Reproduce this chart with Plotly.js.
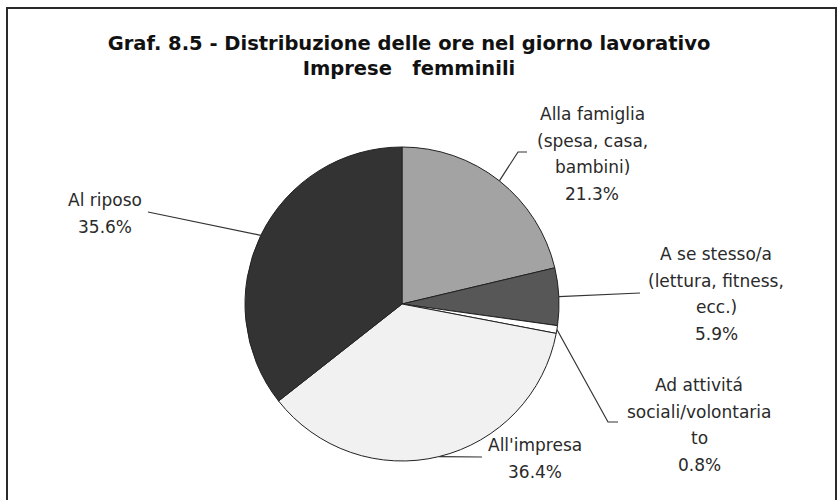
<!DOCTYPE html>
<html>
<head>
<meta charset="utf-8">
<script src="https://cdn.plot.ly/plotly-3.0.1.min.js"></script>
<style>
  html, body { margin: 0; padding: 0; background: #ffffff; }
  #chart { width: 838px; height: 500px; }
</style>
</head>
<body>
<div id="chart"></div>
<script>
// ---- data ----
const categories = [
  "Alla famiglia (spesa, casa, bambini)",
  "A se stesso/a (lettura, fitness, ecc.)",
  "Ad attivitá sociali/volontariato",
  "All'impresa",
  "Al riposo"
];
const labelLines = [
  ["Alla famiglia", "(spesa, casa,", "bambini)"],
  ["A se stesso/a", "(lettura, fitness,", "ecc.)"],
  ["Ad attivitá", "sociali/volontaria", "to"],
  ["All'impresa"],
  ["Al riposo"]
];
const values = [21.3, 5.9, 0.8, 36.4, 35.6];
const sliceColors = ["#a3a3a3", "#575757", "#ffffff", "#f1f1f1", "#333333"];

// ---- layout helpers (pixel -> paper, margins are 0) ----
const W = 838, H = 500;
const px = x => x / W;
const py = y => 1 - y / H;

// pie placement
const cx = 402, cy = 304, R = 157;
const domX = [px(cx - R), px(cx + R)];
const domY = [py(cy + R), py(cy - R)];

// label block placement: [center x, first line y]
const labelPos = [
  [592, 114],
  [716, 254],
  [699, 385],
  [535, 445],
  [105, 200]
];
const lineGap = 26.5;
// leader line waypoints after the slice edge point
const leaderPts = [
  [[518, 152], [527, 152]],
  [[640, 293]],
  [[608, 422], [618, 422]],
  [[482, 457]],
  [[148, 212]]
];

const total = values.reduce((a, b) => a + b, 0);
const annotations = [];
const shapes = [];

let cum = 0;
values.forEach((v, i) => {
  const mid = (cum + v / 2) / total * 2 * Math.PI;
  cum += v;
  const ex = cx + R * Math.sin(mid);
  const ey = cy - R * Math.cos(mid);
  let path = `M ${px(ex)} ${py(ey)}`;
  leaderPts[i].forEach(p => { path += ` L ${px(p[0])} ${py(p[1])}`; });
  shapes.push({
    type: "path", xref: "paper", yref: "paper", path: path,
    line: { color: "#333333", width: 1.2 }
  });
  const lines = labelLines[i].concat([v.toFixed(1) + "%"]);
  lines.forEach((t, k) => {
    annotations.push({
      xref: "paper", yref: "paper",
      x: px(labelPos[i][0]), y: py(labelPos[i][1] + k * lineGap),
      xanchor: "center", yanchor: "middle",
      text: t, showarrow: false,
      font: { family: "DejaVu Sans, Verdana, sans-serif", size: 17, color: "#2a2a2a" }
    });
  });
});

// chart frame
shapes.push({
  type: "rect", xref: "paper", yref: "paper",
  x0: px(7), x1: px(836), y0: py(520), y1: py(8),
  line: { color: "#2a2a2a", width: 2 }, fillcolor: "rgba(0,0,0,0)", layer: "below"
});

const trace = {
  type: "pie",
  labels: categories,
  values: values,
  sort: false,
  direction: "clockwise",
  rotation: 0,
  textinfo: "none",
  hoverinfo: "label+percent",
  marker: { colors: sliceColors, line: { color: "#222222", width: 1 } },
  domain: { x: domX, y: domY },
  showlegend: false
};

const layout = {
  width: W, height: H,
  margin: { l: 0, r: 0, t: 0, b: 0 },
  paper_bgcolor: "#ffffff",
  plot_bgcolor: "#ffffff",
  showlegend: false,
  title: {
    text: "Graf. 8.5 - Distribuzione delle ore nel giorno lavorativo<br>Imprese\u00a0\u00a0 femminili",
    font: { family: "DejaVu Sans, Verdana, sans-serif", size: 19.5, color: "#111111", weight: "bold" },
    x: px(409), xanchor: "center",
    y: py(50), yanchor: "top",
    xref: "container", yref: "container"
  },
  annotations: annotations,
  shapes: shapes
};

Plotly.newPlot("chart", [trace], layout, { staticPlot: true, displayModeBar: false });
</script>
</body>
</html>
